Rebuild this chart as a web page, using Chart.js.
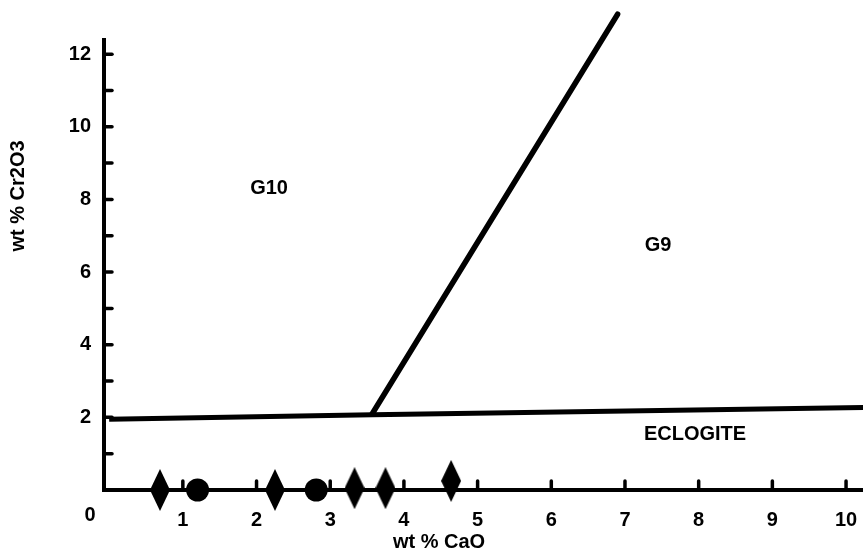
<!DOCTYPE html>
<html>
<head>
<meta charset="utf-8">
<script src="https://cdn.jsdelivr.net/npm/chart.js@4"></script>
<style>
  html, body { margin: 0; padding: 0; background: #fff; }
  #wrap { position: relative; width: 863px; height: 556px; }
</style>
</head>
<body>
<div id="wrap"><canvas id="c"></canvas></div>
<script>
// ---- data ----
const diamondX = [0.69, 2.25, 3.33, 3.75, 4.64];
const diamondY = [0.0, 0.0, 0.05, 0.05, 0.25];
const circleX = [1.2, 2.81];
const circleY = [0.0, 0.0];
const boundaryX = [0, 3.57, 10.25];
const boundaryY = [1.95, 2.07, 2.27];
const diagonalX = [3.57, 6.9];
const diagonalY = [2.1, 13.1];
const xTickValues = [0, 1, 2, 3, 4, 5, 6, 7, 8, 9, 10];
const xTickLabels = ['', '1', '2', '3', '4', '5', '6', '7', '8', '9', '10'];
const yTickValues = [0, 1, 2, 3, 4, 5, 6, 7, 8, 9, 10, 11, 12];
const yTickLabels = ['', '', '2', '', '4', '', '6', '', '8', '', '10', '', '12'];
const originLabel = '0';
const regionLabels = ['G10', 'G9', 'ECLOGITE'];
const regionX = [2.17, 7.45, 7.95];
const regionY = [8.31, 6.74, 1.54];
const xTitle = 'wt % CaO';
const yTitle = 'wt % Cr2O3';

const FONT = '"Liberation Sans", Arial, Helvetica, sans-serif';
Chart.defaults.font.family = FONT;
Chart.defaults.font.size = 20;
Chart.defaults.font.weight = 'bold';
Chart.defaults.color = '#000';

// tall diamond marker
const diamond = document.createElement('canvas');
diamond.width = 20; diamond.height = 42;
(function () {
  const g = diamond.getContext('2d');
  g.fillStyle = '#000';
  g.beginPath();
  g.moveTo(10, 0); g.lineTo(20, 21); g.lineTo(10, 42); g.lineTo(0, 21);
  g.closePath(); g.fill();
})();

const pts = (xs, ys) => xs.map((x, i) => ({ x: x, y: ys[i] }));

const decor = {
  id: 'decor',
  beforeDatasetsDraw(chart) {
    const { ctx, chartArea, scales } = chart;
    ctx.save();
    ctx.strokeStyle = '#000';
    ctx.lineWidth = 3.5;
    ctx.lineCap = 'round';
    yTickValues.forEach(v => {
      if (v === 0) return;
      const p = scales.y.getPixelForValue(v);
      ctx.beginPath(); ctx.moveTo(chartArea.left, p); ctx.lineTo(chartArea.left + 8, p); ctx.stroke();
    });
    xTickValues.forEach(v => {
      if (v === 0) return;
      const p = scales.x.getPixelForValue(v);
      ctx.beginPath(); ctx.moveTo(p, chartArea.bottom); ctx.lineTo(p, chartArea.bottom - 9); ctx.stroke();
    });
    ctx.restore();
  },
  afterDatasetsDraw(chart) {
    const { ctx, chartArea, scales } = chart;
    ctx.save();
    ctx.fillStyle = '#000';
    ctx.font = 'bold 20px ' + FONT;
    ctx.textAlign = 'center';
    ctx.textBaseline = 'middle';
    regionLabels.forEach((t, i) => {
      ctx.fillText(t, scales.x.getPixelForValue(regionX[i]), scales.y.getPixelForValue(regionY[i]));
    });
    // origin label
    ctx.fillText(originLabel, chartArea.left - 14, chartArea.bottom + 25);
    // axis titles
    ctx.fillText(xTitle, 439, 542);
    ctx.translate(18, 196);
    ctx.rotate(-Math.PI / 2);
    ctx.fillText(yTitle, 0, 0);
    ctx.restore();
  }
};

new Chart(document.getElementById('c'), {
  type: 'scatter',
  data: {
    datasets: [
      { data: pts(boundaryX, boundaryY), showLine: true, borderColor: '#000', borderWidth: 5, pointRadius: 0, fill: false, clip: false },
      { data: pts(diagonalX, diagonalY), showLine: true, borderColor: '#000', borderWidth: 5.5, pointRadius: 0, fill: false, clip: false, borderCapStyle: 'round' },
      { data: pts(diamondX, diamondY), pointStyle: diamond, pointRadius: 12, backgroundColor: '#000', borderColor: '#000', clip: false },
      { data: pts(circleX, circleY), pointStyle: 'circle', pointRadius: 11.5, backgroundColor: '#000', borderColor: '#000', borderWidth: 0, clip: false }
    ]
  },
  options: {
    responsive: true,
    maintainAspectRatio: false,
    animation: false,
    events: [],
    layout: { autoPadding: false, padding: { top: 40, right: 0, left: 0, bottom: 0 } },
    plugins: { legend: { display: false }, tooltip: { enabled: false } },
    scales: {
      x: {
        type: 'linear', min: -0.07, max: 10.23,
        grid: { display: false, drawTicks: false },
        border: { display: true, color: '#000', width: 4 },
        afterBuildTicks: s => { s.ticks = xTickValues.map(v => ({ value: v })); },
        afterFit: s => { s.height = 66; s.paddingLeft = 0; s.paddingRight = 0; },
        ticks: {
          autoSkip: false, maxRotation: 0, padding: 18,
          callback: (v, i) => xTickLabels[i]
        }
      },
      y: {
        type: 'linear', min: 0, max: 12.39,
        grid: { display: false, drawTicks: false },
        border: { display: true, color: '#000', width: 4 },
        afterBuildTicks: s => { s.ticks = yTickValues.map(v => ({ value: v })); },
        afterFit: s => { s.width = 104; s.paddingTop = 0; s.paddingBottom = 0; },
        ticks: {
          autoSkip: false, padding: 13,
          callback: (v, i) => yTickLabels[i]
        }
      }
    }
  },
  plugins: [decor]
});
</script>
</body>
</html>
